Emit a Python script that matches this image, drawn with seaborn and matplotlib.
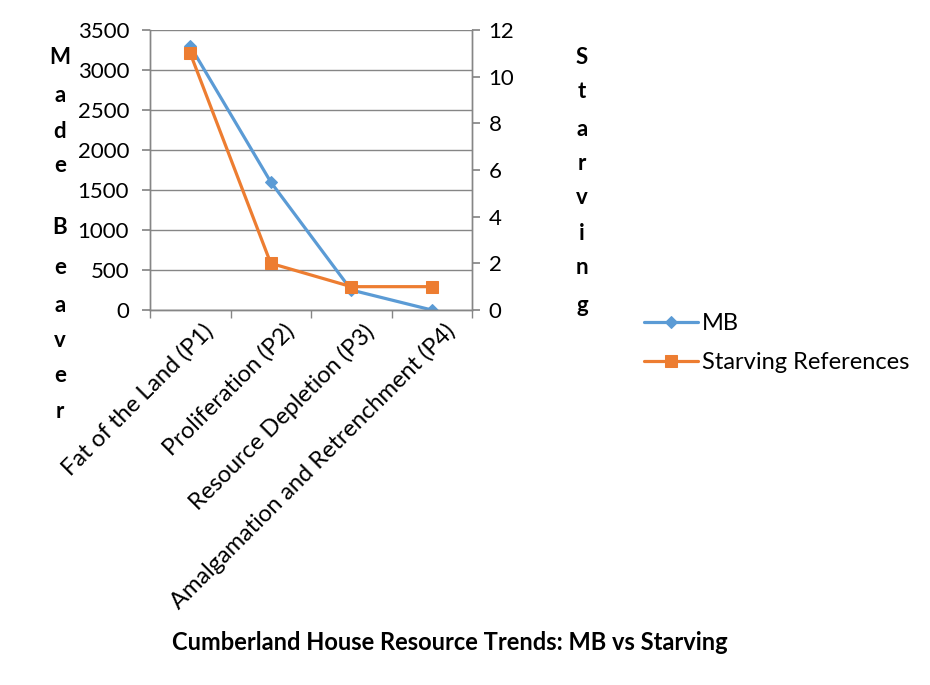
import matplotlib
matplotlib.use("Agg")
import matplotlib.pyplot as plt
import matplotlib.transforms as mtransforms
import seaborn as sns
import pandas as pd
import numpy as np
from matplotlib.ticker import MultipleLocator, FixedLocator

categories = ["Fat of the Land (P1)", "Proliferation (P2)", "Resource Depletion (P3)",
              "Amalgamation and Retrenchment (P4)"]
mb_values = [3300, 1600, 250, 0]
starving_values = [11, 2, 1, 1]

sns.set_theme(style="white")
plt.rcParams['font.family'] = ['Lato', 'DejaVu Sans']

blue = "#5B9BD5"
orange = "#ED7D31"
grid_c = "#868686"
txt_c = "#000000"

fig = plt.figure(figsize=(9.3, 6.85), dpi=100)
fig.patch.set_facecolor("white")
ax = fig.add_axes([150/930, 1 - 310/685, (472-150)/930, (310-30)/685])
ax2 = ax.twinx()

df = pd.DataFrame({"pos": np.arange(len(categories)), "MB": mb_values, "Starving": starving_values})

sns.lineplot(data=df, x="pos", y="MB", ax=ax, color=blue, marker="D", markersize=6,
             linewidth=2.3, markeredgecolor=blue, label="MB", legend=False)
sns.lineplot(data=df, x="pos", y="Starving", ax=ax2, color=orange, marker="s", markersize=8,
             linewidth=2.3, markeredgecolor=orange, label="Starving References", legend=False)

ax.set_xlim(-0.5, len(categories) - 0.5)
ax.set_ylim(0, 3500)
ax2.set_ylim(0, 12)
ax.yaxis.set_major_locator(MultipleLocator(500))
ax2.yaxis.set_major_locator(MultipleLocator(2))

ax.set_xticks(np.arange(len(categories)))
ax.xaxis.set_minor_locator(FixedLocator(np.arange(-0.5, len(categories), 1.0)))
ax.tick_params(axis="x", which="major", length=0, pad=0)
ax.tick_params(axis="x", which="minor", length=6, color=grid_c, direction="out", bottom=True)
ax.tick_params(axis="y", which="major", length=6, color=grid_c, direction="out", left=True,
               labelsize=16, labelcolor=txt_c, pad=9)
ax2.tick_params(axis="y", which="major", length=6, color=grid_c, direction="out", right=True,
                labelsize=16, labelcolor=txt_c, pad=6)
ax.set_xticklabels(categories, rotation=45, ha="right", va="center", rotation_mode="anchor",
                   fontsize=17, color=txt_c)
offset = mtransforms.ScaledTranslation(20/100, -18/100, fig.dpi_scale_trans)
for lbl in ax.get_xticklabels():
    lbl.set_transform(lbl.get_transform() + offset)

ax.grid(True, axis="y", color=grid_c, linewidth=1)
ax.set_axisbelow(True)
for sp in ["top"]:
    ax.spines[sp].set_visible(False)
    ax2.spines[sp].set_visible(False)
for a in (ax, ax2):
    for sp in ["left", "right", "bottom"]:
        a.spines[sp].set_color(grid_c)
        a.spines[sp].set_linewidth(1)
ax.set_xlabel("")
ax.set_ylabel("")
ax2.set_ylabel("")

# stacked vertical axis titles
ys = [58, 96, 131, 165, None, 228, 268, 305, 340, 376, 411]
for ch, y in zip(["M", "a", "d", "e", None, "B", "e", "a", "v", "e", "r"], ys):
    if ch is None:
        continue
    fig.text(60/930, 1 - y/685, ch, ha="center", va="center", fontsize=16,
             fontweight="bold", color=txt_c)
right_title = "Starving"
ys_r = [58, 92, 129, 164, 198, 233, 268, 306]
for ch, y in zip(right_title, ys_r):
    fig.text(582/930, 1 - y/685, ch, ha="center", va="center", fontsize=16,
             fontweight="bold", color=txt_c)

fig.text(450/930, 1 - 642/685, "Cumberland House Resource Trends: MB vs Starving",
         ha="center", va="center", fontsize=17, fontweight="bold", color=txt_c)

h1, l1 = ax.get_legend_handles_labels()
h2, l2 = ax2.get_legend_handles_labels()
fig.legend(h1 + h2, l1 + l2, loc="center left", bbox_to_anchor=(632/930, 1 - 343/685),
           frameon=False, fontsize=17, handlelength=2.3, handletextpad=0.15,
           labelspacing=0.75, labelcolor=txt_c, borderpad=0)

fig.savefig("out.png", dpi=100, facecolor="white")
